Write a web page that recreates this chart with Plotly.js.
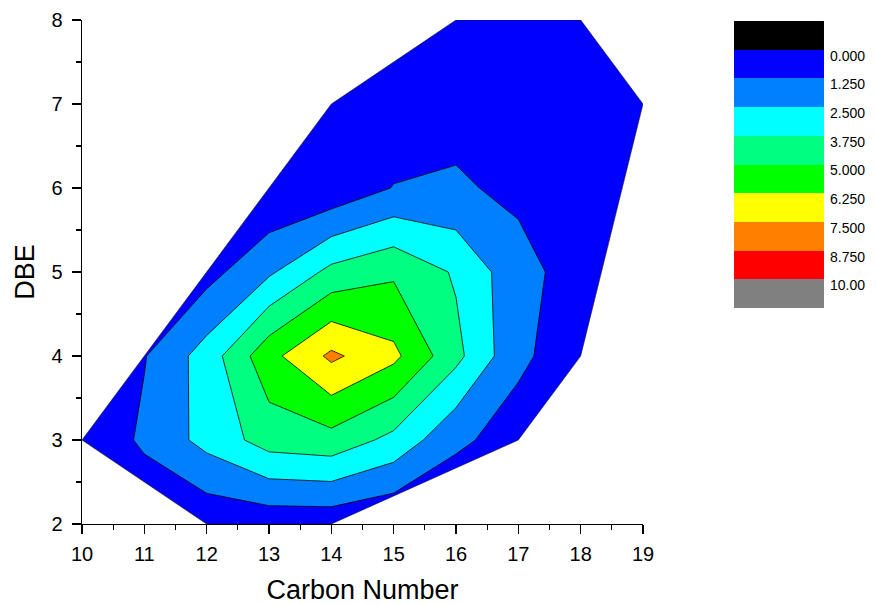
<!DOCTYPE html>
<html>
<head>
<meta charset="utf-8">
<script src="https://cdn.plot.ly/plotly-3.0.1.min.js"></script>
<style>
  html, body { margin: 0; padding: 0; background: #fff; }
  #chart { width: 876px; height: 605px; }
</style>
</head>
<body>
<div id="chart"></div>
<script>
// Grid axes
const carbonNumbers = [10, 11, 12, 13, 14, 15, 16, 17, 18, 19];
const dbeValues = [2, 3, 4, 5, 6, 7, 8];

// Relative abundance per DBE row (columns follow carbonNumbers); 0 = not detected
const abundanceDBE2 = [0,    0,    0.3,  0.4,  0.4,  0,    0,    0,    0,    0];
const abundanceDBE3 = [0.05, 1.5,  2.9,  4.3,  4.55, 3.4,  1.5,  0.7,  0,    0];
const abundanceDBE4 = [0,    1.18, 3.05, 5.85, 7.75, 6.55, 4.1,  1.5,  0.5,  0];
const abundanceDBE5 = [0,    0,    0.8,  2.3,  4.1,  4.8,  3.6,  1.67, 0.7,  0];
const abundanceDBE6 = [0,    0,    0,    0.05, 0.3,  1.3,  1.4,  1.0,  0.5,  0];
const abundanceDBE7 = [0,    0,    0,    0,    0.05, 0.3,  0.85, 0.6,  0.3,  0.05];
const abundanceDBE8 = [0,    0,    0,    0,    0,    0,    0.05, 0.1,  0.05, 0];

// Contour levels and the colour of each band (below 0 ... above 10)
const levelStart = 0, levelEnd = 10, levelStep = 1.25;
const bandColors = ['#000000', '#0000FF', '#0080FF', '#00FFFF', '#00FF80',
                    '#00FF00', '#FFFF00', '#FF8000', '#FF0000', '#808080'];
const levelLabels = ['0.000', '1.250', '2.500', '3.750', '5.000',
                     '6.250', '7.500', '8.750', '10.00'];

const FONT = 'Liberation Sans, Arial, Helvetica, sans-serif';

const zGrid = [abundanceDBE2, abundanceDBE3, abundanceDBE4, abundanceDBE5,
               abundanceDBE6, abundanceDBE7, abundanceDBE8];

// Detected species (non-zero cells)
const detX = [], detY = [];
zGrid.forEach((row, j) => row.forEach((v, i) => {
  if (v > 0) { detX.push(carbonNumbers[i]); detY.push(dbeValues[j]); }
}));

// Convex hull of the detected species (monotone chain, counter-clockwise)
function convexHull(px, py) {
  const pts = px.map((x, i) => [x, py[i]])
    .sort((a, b) => a[0] - b[0] || a[1] - b[1]);
  const cross = (o, a, b) => (a[0]-o[0])*(b[1]-o[1]) - (a[1]-o[1])*(b[0]-o[0]);
  const lower = [], upper = [];
  for (const p of pts) {
    while (lower.length >= 2 && cross(lower[lower.length-2], lower[lower.length-1], p) <= 0) lower.pop();
    lower.push(p);
  }
  for (let i = pts.length - 1; i >= 0; i--) {
    const p = pts[i];
    while (upper.length >= 2 && cross(upper[upper.length-2], upper[upper.length-1], p) <= 0) upper.pop();
    upper.push(p);
  }
  upper.pop(); lower.pop();
  return lower.concat(upper);
}
const hull = convexHull(detX, detY);

// White cover outside the detected region: an outer frame (clockwise)
// joined by a slit to the hull (counter-clockwise), so the hull stays open.
const xr = [10, 19], yr = [2, 8];
const fx0 = xr[0] - 2, fx1 = xr[1] + 2, fy0 = yr[0] - 2, fy1 = yr[1] + 2;
const maskX = [fx0, fx0, fx1, fx1, fx0], maskY = [fy0, fy1, fy1, fy0, fy0];
hull.forEach(p => { maskX.push(p[0]); maskY.push(p[1]); });
maskX.push(hull[0][0], fx0); maskY.push(hull[0][1], fy0);

const outlineX = hull.map(p => p[0]).concat([hull[0][0]]);
const outlineY = hull.map(p => p[1]).concat([hull[0][1]]);

// Contour colour scale: the band below the first drawn level is blue.
const firstLevel = levelStart + levelStep;
const contourColors = bandColors.slice(1);
const contourScale = contourColors.map((c, k) => [k / (contourColors.length - 1), c]);

// Legend bands
const legendIdx = bandColors.map((c, k) => k);
const legendScale = bandColors.map((c, k) => [k / (bandColors.length - 1), c]);

const traces = [
  {
    type: 'contour',
    x: carbonNumbers, y: dbeValues, z: zGrid,
    xaxis: 'x', yaxis: 'y',
    autocontour: false,
    contours: { start: firstLevel, end: levelEnd, size: levelStep, coloring: 'fill', showlines: true },
    colorscale: contourScale,
    line: { color: '#000000', width: 0.8, smoothing: 0 },
    showscale: false,
    hoverinfo: 'skip'
  },
  {
    type: 'scatter', mode: 'lines',
    x: maskX, y: maskY,
    fill: 'toself', fillcolor: '#ffffff',
    line: { width: 0, color: 'rgba(0,0,0,0)', simplify: false },
    hoverinfo: 'skip', showlegend: false
  },
  {
    type: 'scatter', mode: 'lines',
    x: outlineX, y: outlineY,
    line: { width: 0.6, color: '#1a1a1a' },
    hoverinfo: 'skip', showlegend: false
  },
  {
    type: 'heatmap',
    x: [0], y: legendIdx, z: legendIdx.map(k => [k]),
    xaxis: 'x2', yaxis: 'y2',
    colorscale: legendScale, zmin: 0, zmax: bandColors.length - 1,
    showscale: false, hoverinfo: 'skip'
  }
];

const annotations = levelLabels.map((t, i) => ({
  text: t, showarrow: false,
  xref: 'x2 domain', x: 1, xanchor: 'left', xshift: 4,
  yref: 'y2', y: i + 0.5, yanchor: 'middle', yshift: -6,
  font: { family: FONT, size: 14, color: '#000' }
}));

const axisCommon = {
  showgrid: false, zeroline: false,
  showline: true, linecolor: '#000', linewidth: 1.3,
  ticks: 'outside', ticklen: 9, tickwidth: 1.3, tickcolor: '#000',
  tickfont: { family: FONT, size: 20, color: '#000' },
  dtick: 1,
  minor: { dtick: 0.5, ticks: 'outside', ticklen: 5, tickwidth: 1.3, tickcolor: '#000', showgrid: false }
};

const layout = {
  width: 876, height: 605,
  margin: { l: 82, r: 40, t: 20, b: 81 },
  paper_bgcolor: '#fff', plot_bgcolor: '#fff',
  showlegend: false,
  xaxis: Object.assign({}, axisCommon, {
    domain: [0, 561 / 754], range: xr, anchor: 'y', tick0: 10,
    ticklabelstandoff: 3,
    title: { text: 'Carbon Number', font: { family: FONT, size: 27, color: '#000' }, standoff: 17 }
  }),
  yaxis: Object.assign({}, axisCommon, {
    domain: [0, 1], range: yr, anchor: 'x', tick0: 2,
    ticklabelstandoff: 5,
    title: { text: 'DBE', font: { family: FONT, size: 27, color: '#000' }, standoff: 9 }
  }),
  xaxis2: { domain: [0.8647, 0.9841], anchor: 'y2', range: [-0.5, 0.5], visible: false, fixedrange: true },
  yaxis2: { domain: [0.4286, 0.998], anchor: 'x2', range: [bandColors.length - 0.5, -0.5], visible: false, fixedrange: true },
  annotations: annotations
};

Plotly.newPlot('chart', traces, layout, { staticPlot: true, displayModeBar: false });
</script>
</body>
</html>
